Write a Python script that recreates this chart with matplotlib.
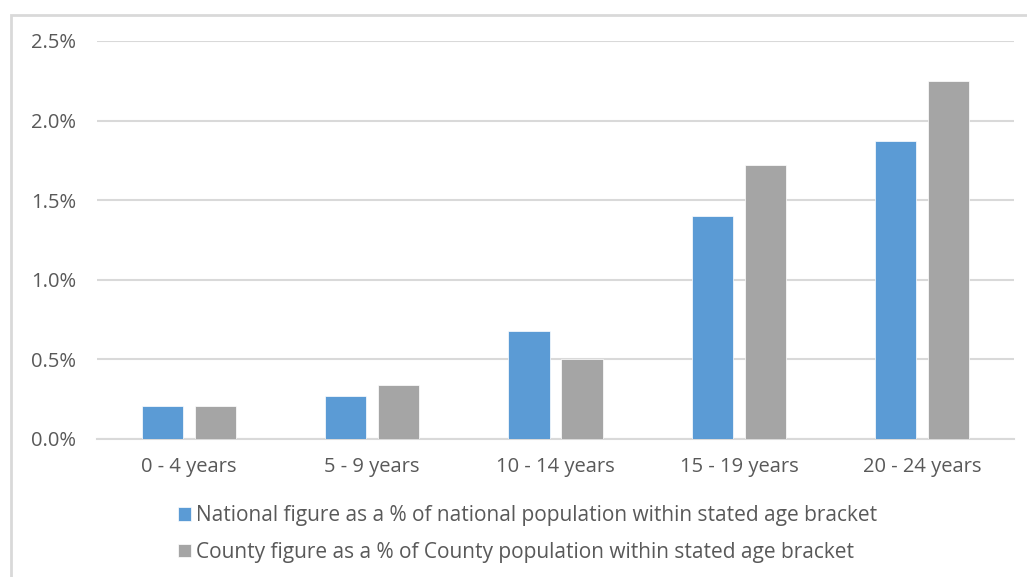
import matplotlib.pyplot as plt
import matplotlib.patches as mpatches
import numpy as np

plt.rcParams['font.family'] = ['Open Sans', 'DejaVu Sans']

age_groups = ['0 - 4 years', '5 - 9 years', '10 - 14 years', '15 - 19 years', '20 - 24 years']
national = [0.21, 0.27, 0.68, 1.40, 1.87]
county = [0.21, 0.34, 0.50, 1.72, 2.25]
labels = ['National figure as a % of national population within stated age bracket',
          'County figure as a % of County population within stated age bracket']

fig = plt.figure(figsize=(10.27, 5.77), dpi=100)
ax = fig.add_axes([97 / 1027, 1 - 439 / 577, (1014 - 97) / 1027, (439 - 41) / 577])

# outer chart border (top and left visible)
fig.patches.append(mpatches.Rectangle((11 / 1027, -0.05), 1.2, 1 - 15 / 577 + 0.05,
                                      transform=fig.transFigure, fill=False,
                                      edgecolor='#D9D9D9', linewidth=2))

x = np.arange(len(age_groups))
w = 0.224
ax.bar(x - 0.1445, national, w, color='#5B9BD5', edgecolor='white', linewidth=0.5, label=labels[0], zorder=3)
ax.bar(x + 0.1445, county, w, color='#A5A5A5', edgecolor='white', linewidth=0.5, label=labels[1], zorder=3)

ax.set_xlim(-0.5, len(age_groups) - 0.5)
ax.set_ylim(0, 2.5)
yt = np.arange(0, 2.51, 0.5)
ax.set_yticks(yt)
ax.set_yticklabels([f'{v:.1f}%' for v in yt])
ax.set_xticks(x)
ax.set_xticklabels(age_groups)
ax.tick_params(axis='both', length=0, labelsize=14.5, colors='#595959')
ax.tick_params(axis='x', pad=13)
ax.tick_params(axis='y', pad=15)
ax.grid(axis='y', color='#D9D9D9', linewidth=1.5, zorder=0)
for s in ['top', 'right', 'left']:
    ax.spines[s].set_visible(False)
ax.spines['bottom'].set_color('#D9D9D9')
ax.spines['bottom'].set_linewidth(1.5)

fig.legend(loc='upper left', bbox_to_anchor=(170 / 1027, 1 - 497 / 577), frameon=False,
           fontsize=15, labelcolor='#595959', handlelength=0.6, handleheight=0.6,
           handletextpad=0.25, labelspacing=0.75, borderaxespad=0)

fig.savefig('out.png', dpi=100)
